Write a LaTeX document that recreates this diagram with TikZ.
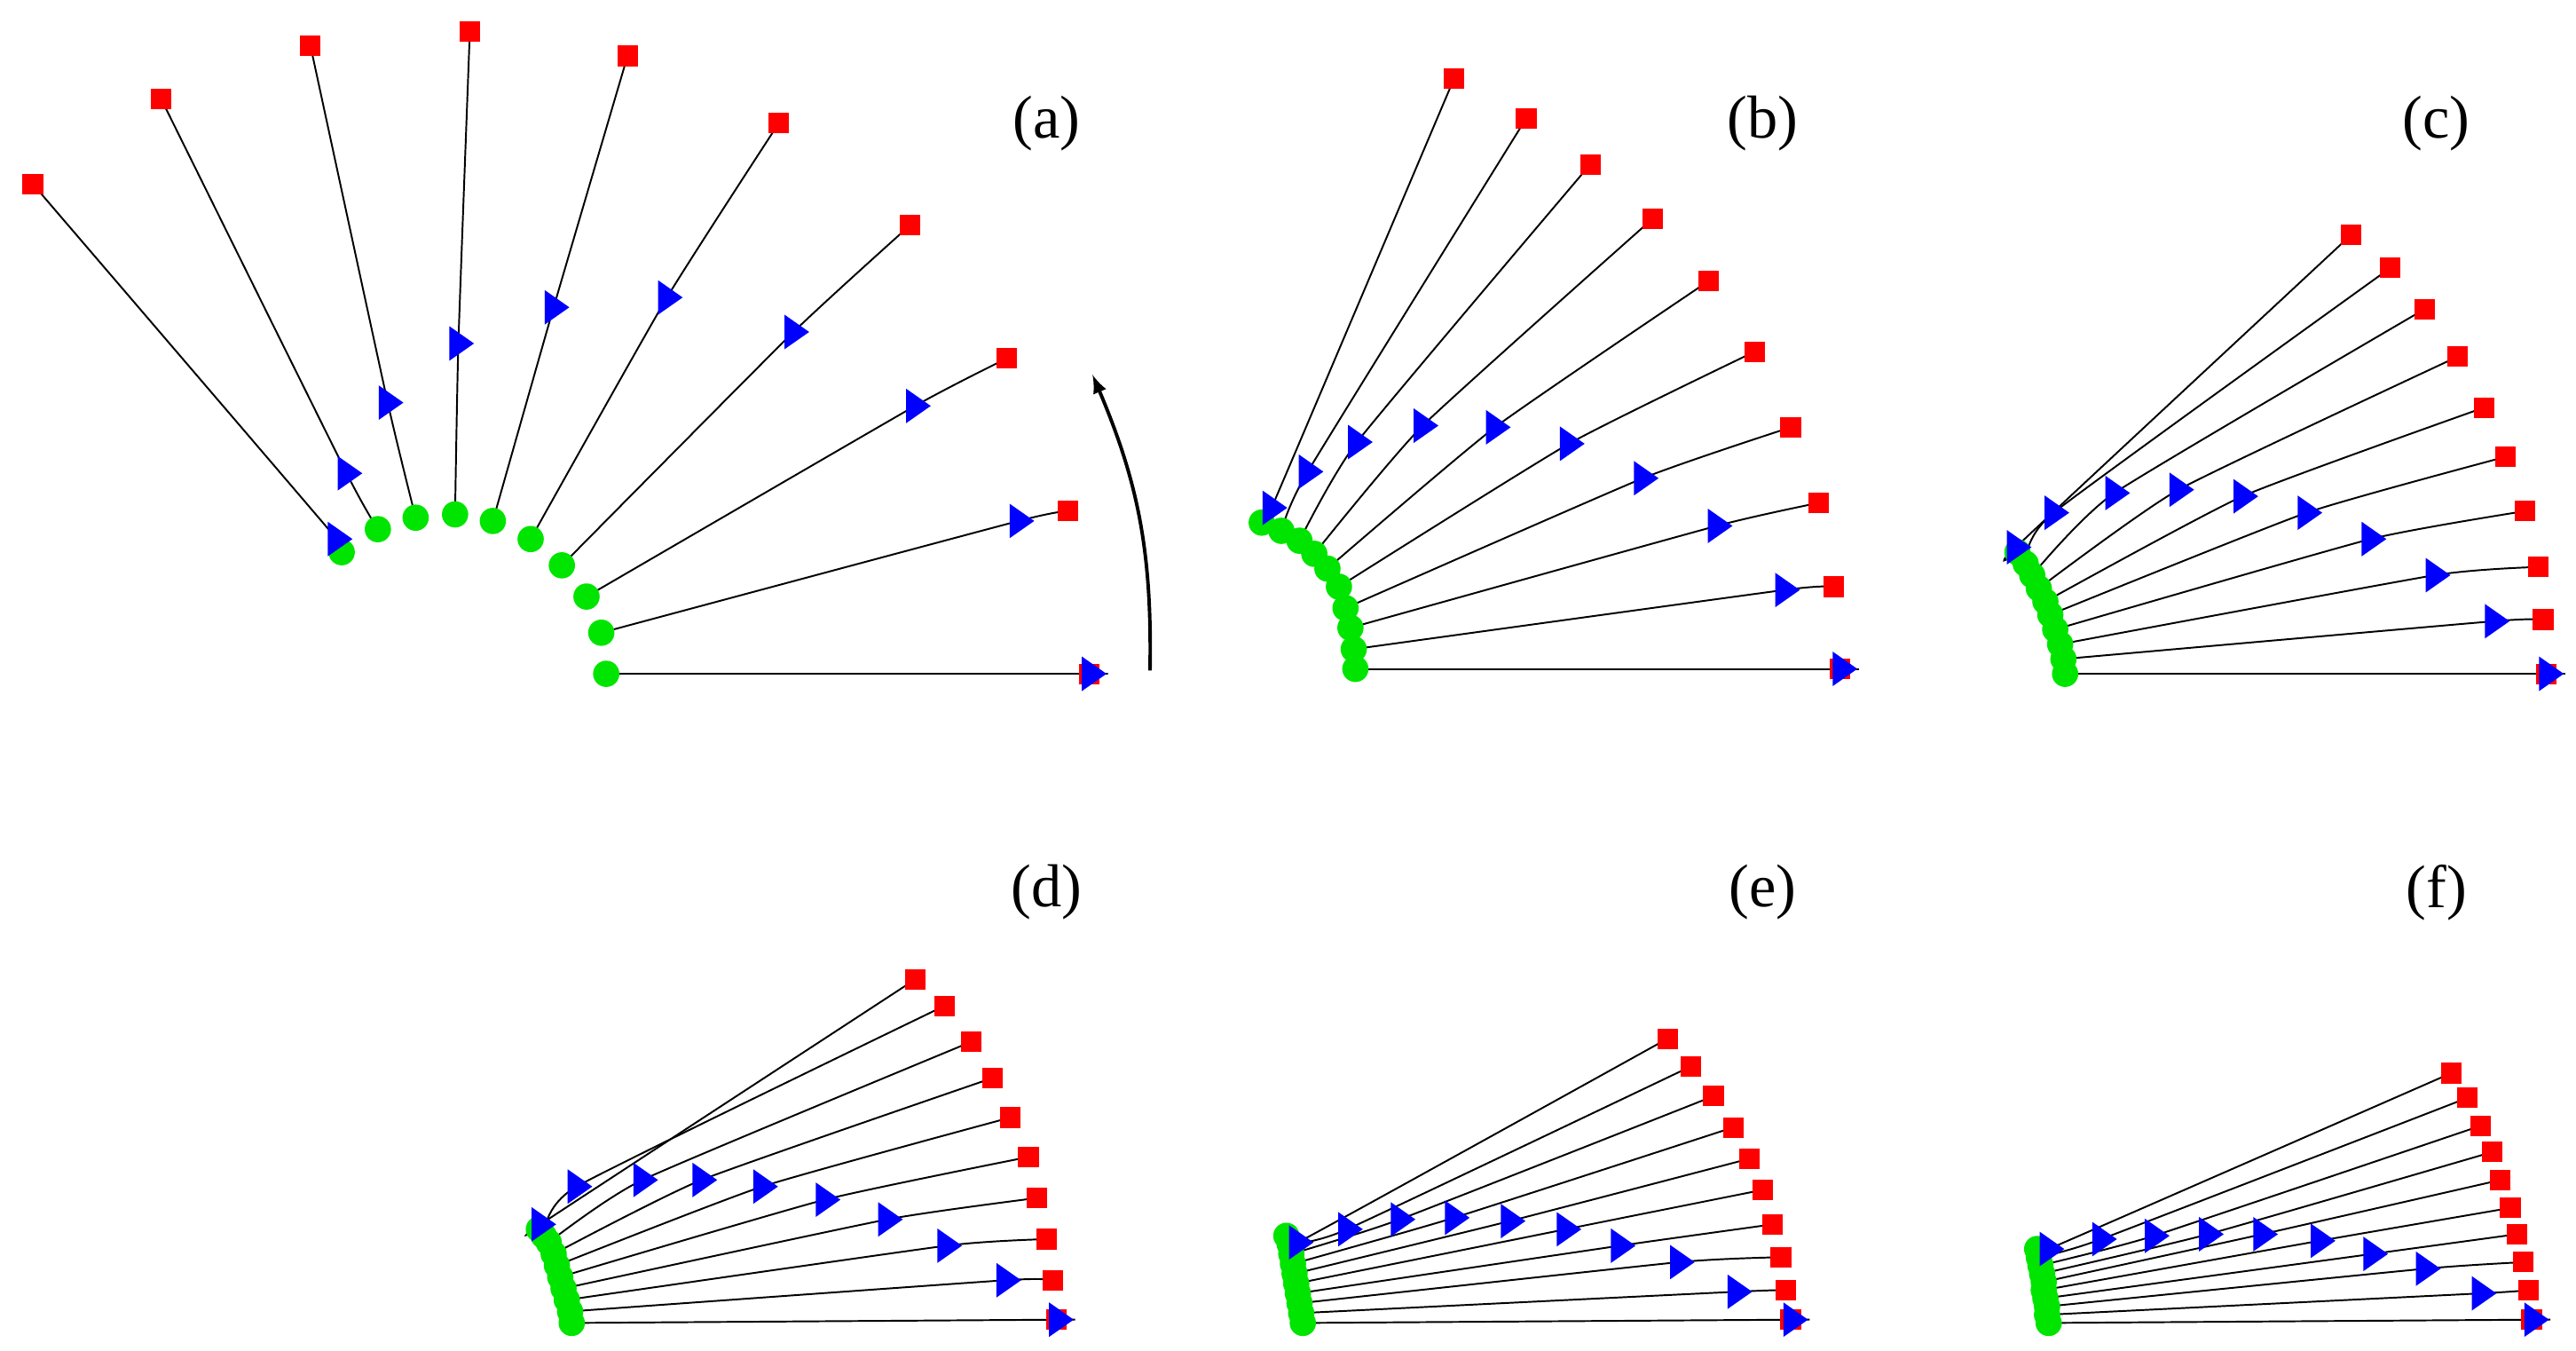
\documentclass[tikz,border=0pt]{standalone}
\usepackage{fontspec}
\setmainfont{Liberation Serif}
\usetikzlibrary{shapes.geometric}
\tikzstyle{startDot}=[shape=circle,fill=green!90!black,inner sep=0pt,minimum size=0.32cm]
\tikzstyle{endBox}=[shape=rectangle,fill=red,inner sep=0pt,minimum size=0.25cm]
\tikzstyle{midMark}=[shape=isosceles triangle,fill=blue,inner sep=0pt,minimum height=0.3cm,minimum width=0.3cm,isosceles triangle apex angle=70]
\tikzstyle{panelLabel}=[font=\fontsize{21}{21}\selectfont]
\newcommand{\drawpanel}[2]{%
  \foreach \gx/\gy/\bx/\by/\rx/\ry [count=\k] in {#2} {
    \coordinate (#1g\k) at (\gx,\gy);
    \coordinate (#1b\k) at (\bx,\by);
    \coordinate (#1r\k) at (\rx,\ry);
    \draw[semithick] plot[smooth,tension=0.3] coordinates {(#1g\k) (#1b\k) (#1r\k)};
  }
  \foreach \gx/\gy/\bx/\by/\rx/\ry [count=\k] in {#2} {
    \node[startDot] (#1G\k) at (\gx,\gy) {};
    \node[endBox] (#1R\k) at (\rx,\ry) {};
    \node[midMark] (#1B\k) at (\bx,\by) {};
  }}
\begin{document}
\begin{tikzpicture}[x=0.02cm,y=-0.02cm]
        \useasboundingbox (0,0) rectangle (1568,822);
        % (a)
        \drawpanel{a}{369/410/664/410/663/410, 366/385/620/317/650/311,
          357/363/557/247/613/218, 342/344/483/202/554/137,
          323/328/406/181/474/75, 300/317/337/187/382/34,
          277/313/279/209/286/19, 253/315/236/245/189/28,
          230/322/211/288/98/60, 208/336/205/328/20/112}
        % (b)
        \drawpanel{b}{825/407/1121/407/1120/407, 824/395/1086/359/1116/357,
          822/382/1045/320/1107/306, 819/370/1000/291/1090/260,
          815/357/955/270/1068/214, 808/346/910/260/1040/171,
          800/337/866/259/1006/133, 791/329/826/269/968/100,
          780/323/796/287/929/72, 768/318/774/309/885/48}
        % (c)
        \drawpanel{c}{1257/410/1551/410/1550/410, 1256/401/1518/378/1548/377,
          1254/392/1482/350/1545/345, 1251/383/1443/328/1537/311,
          1248/374/1404/312/1525/278, 1245/366/1365/302/1512/248,
          1241/358/1326/298/1496/217, 1237/350/1287/300/1476/188,
          1233/343/1250/312/1455/163, 1228/336/1227/333/1431/143}
        % (d)
        \drawpanel{d}{348/805/644/803/643/803, 347/798/612/779/641/779,
          345/791/576/758/637/754, 343/784/540/742/631/729,
          341/777/502/730/626/704, 339/770/464/722/615/680,
          337/763/427/718/604/656, 334/756/391/718/591/634,
          331/752/351/722/575/612, 328/748/329/745/557/596}
        % (e)
        \drawpanel{e}{793/805/1091/803/1090/803, 792/799/1057/786/1087/785,
          791/793/1022/768/1084/765, 790/787/986/758/1079/745,
          789/781/953/748/1073/724, 788/775/919/743/1065/705,
          787/769/885/741/1055/686, 786/763/852/742/1043/667,
          785/757/820/748/1029/649, 783/752/790/756/1015/632}
        % (f)
        \drawpanel{f}{1247/805/1542/803/1541/803, 1246/800/1510/787/1539/785,
          1246/795/1476/772/1536/768, 1245/790/1444/763/1532/751,
          1244/785/1412/755/1528/735, 1244/780/1377/751/1522/718,
          1243/775/1344/751/1517/701, 1242/770/1311/752/1510/685,
          1241/765/1279/754/1502/668, 1240/760/1247/760/1492/653}
        % rotation arrow
        \coordinate (rotA) at (700,408);
        \coordinate (rotB) at (665,228);
        \draw[-latex,very thick] (rotA) to[bend right=12] (rotB);
        \node[panelLabel] (la) at (637,75) {(a)};
        \node[panelLabel] (lb) at (1073,75) {(b)};
        \node[panelLabel] (lc) at (1483,75) {(c)};
        \node[panelLabel] (ld) at (637,543) {(d)};
        \node[panelLabel] (le) at (1073,543) {(e)};
        \node[panelLabel] (lf) at (1483,543) {(f)};
    \end{tikzpicture}
\end{document}
